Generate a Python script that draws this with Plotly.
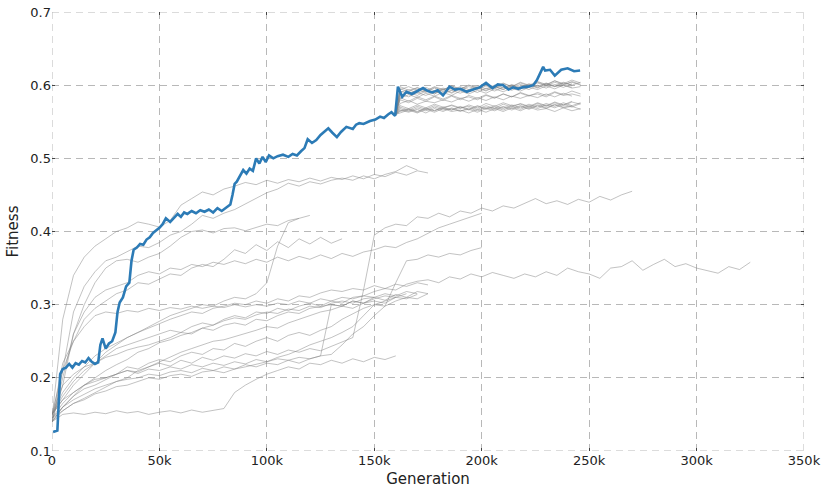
import plotly.graph_objects as go

# ---------------- data ----------------
# generation in thousands, fitness
best_run = [(0.5,.126),(2.5,.128),(3.2,.17),(3.8,.205),(5,.212),(6.5,.214),(8,.219),(9.5,.214),
    (11,.22),(12.5,.218),(14,.223),(15.5,.221),(17,.227),(18.5,.222),(20,.219),(21.5,.221),
    (22.5,.245),(23.5,.254),(25,.24),(26.5,.247),(28,.25),(29.5,.262),(30.5,.29),(31.5,.303),
    (33,.31),(34.5,.325),(36,.33),(37,.36),(38,.375),(39.5,.378),(41,.383),(42.5,.382),
    (44,.389),(45.5,.392),(47,.398),(48.5,.401),(50,.405),(51.5,.41),(53,.418),(55,.413),
    (57,.42),(58.5,.424),(60,.42),(61.5,.426),(63,.424),(65,.428),(67,.425),(69,.429),
    (71,.427),(73,.43),(75,.426),(77,.432),(79,.428),(81,.433),(83,.437),(84,.45),(85,.465),
    (86,.468),(87.5,.477),(89,.484),(90.5,.479),(92,.486),(93.5,.483),(95,.5),(96.5,.493),
    (98,.502),(99.5,.495),(101,.504),(103,.5),(105,.503),(107.5,.505),(110,.502),(112,.506),
    (114,.504),(116,.51),(117.5,.514),(119,.526),(121,.521),(123,.525),(125,.532),(127,.537),
    (128.6,.541),(130.5,.535),(132.6,.529),(134.5,.536),(137,.543),(140,.54),(141.5,.546),
    (143,.548),(145,.547),(148,.551),(150.5,.553),(152.7,.557),(154.5,.555),(156.4,.56),
    (158,.563),(159.7,.558),(161,.598),(163,.584),(165,.591),(167.5,.588),(170,.592),
    (172.7,.596),(175,.592),(177,.59),(179.5,.593),(182,.586),(185,.598),(187.5,.594),
    (190,.595),(193,.591),(196,.594),(199,.597),(202,.603),(205,.596),(207.5,.601),(210,.6),
    (212.5,.594),(214.6,.597),(217,.595),(219,.597),(221.5,.598),(224,.6),(225.7,.607),
    (228.6,.625),(229.5,.62),(231.8,.621),(234,.613),(237,.621),(240,.623),(243,.619),(245.8,.62)]

# other runs: sampled every 5k generations from 0
run_a = [.145,.28,.34,.365,.38,.39,.40,.405,.413,.41,.406,.415,.436,.445,.454,.45,.458,.462,.467,.464,
         .47,.466,.471,.468,.473,.469,.474,.471,.476,.472,.478,.475,.481,.477,.483,.48]
run_b = [.14,.21,.29,.325,.345,.36,.365,.372,.38,.378,.385,.395,.40,.41,.422,.418,.425,.43,.438,.445,
         .453,.458,.466,.462,.468,.465,.47,.473,.47,.476,.472,.478,.482,.49,.484]
run_c = [.14,.19,.26,.30,.33,.35,.36,.362,.358,.365,.37,.38,.392,.40,.402,.398,.404,.405,.401,.406,
         .41,.408,.415,.418,.422]
run_d = [.15,.17,.19,.205,.22,.235,.245,.255,.262,.27,.278,.285,.29,.295,.30,.298,.305,.31,.308,.315,
         .33,.38,.412,.418]
run_e = [.15,.21,.25,.28,.295,.305,.315,.32,.33,.328,.335,.342,.34,.35,.355,.352,.362,.375,.37,.382,
         .374,.386,.378,.39,.383,.392,.384,.39]
run_f = [.14,.2,.26,.29,.31,.32,.325,.33,.34,.345,.342,.35,.348,.355,.352,.358,.355,.36,.356,.362,
         .358,.365,.36,.366,.362,.368,.363,.37,.366,.372,.375,.38,.378,.385,.39,.398,.405,.41,.415,.42,.425]
run_g = [.14,.16,.175,.185,.19,.198,.205,.21,.208,.215,.22,.216,.224,.22,.228,.224,.23,.227,.233,.23,
         .236,.232,.238,.235,.24,.237,.243,.25,.255,.32,.395,.405,.41,.408,.42,.418,.425,.42,.428,.425,
         .432,.428,.435,.432,.438,.445,.438,.442,.437,.444,.44,.448,.443,.45,.455]
run_h = [.145,.165,.18,.19,.198,.2,.205,.21,.206,.212,.21,.215,.212,.218,.215,.22,.217,.222,.219,.225,
         .222,.226,.224,.228,.226,.23,.232,.245,.26,.27,.285,.298,.33,.36,.362,.368,.365,.37,.368,.374,.378]
run_i = [.14,.15,.152,.15,.153,.151,.155,.152,.154,.15,.153,.155,.152,.156,.153,.155,.158,.18,.19,.198,
         .205,.21,.215,.212,.22,.218,.224,.22,.226,.222,.228,.225,.23]
run_j = [.145,.16,.17,.178,.185,.19,.195,.198,.2,.205,.203,.208,.21,.207,.213,.21,.215,.212,.218,.215,
         .22,.218,.224,.22,.226,.23,.30,.298,.305,.302,.31,.306,.314,.31,.318,.315]
run_k = [.15,.175,.195,.21,.22,.23,.24,.245,.25,.255,.26,.265,.262,.27,.275,.272,.28,.285,.282,.29,
         .288,.295,.292,.298,.302,.298,.305,.302,.31,.312,.318,.322,.32,.328,.332,.334,.33,.338,.335,.342,
         .338,.344,.34,.336,.342,.338,.345,.34,.35,.345,.342,.336,.35,.352,.36,.347,.355,.362,.352,.356,
         .35,.347,.343,.352,.348,.358]
run_l = [.15,.18,.2,.215,.23,.24,.248,.255,.262,.268,.275,.28,.285,.29,.288,.295,.298,.302,.30,.305,
         .302,.308,.305,.312,.31,.316,.32,.318,.322,.32,.326,.322,.328,.325,.33,.327]
run_m = [.145,.22,.25,.27,.285,.29,.288,.292,.29,.295,.292,.296,.294,.298,.295,.298,.296,.30,.297,.30,
         .298,.302,.30,.305,.302,.308,.305,.31,.308,.312,.31,.315,.312,.318,.315]
run_n = [.14,.16,.175,.19,.2,.21,.218,.225,.235,.24,.248,.252,.258,.262,.268,.265,.272,.275,.272,.28,
         .278,.285,.29,.288,.295,.298,.30,.298,.305,.302,.308,.312,.31,.315]
run_o = [.145,.155,.165,.172,.18,.188,.195,.2,.21,.215,.222,.228,.235,.24,.245,.25,.252,.256,.26,.265,
         .27,.268,.275,.28,.285,.29,.293,.298,.295,.302,.305,.302,.31]
run_p = [.15,.17,.18,.19,.195,.2,.205,.215,.212,.22,.225,.222,.23,.235,.232,.24,.238,.247,.243,.25,
         .255,.25,.258,.262,.258,.265,.27,.28,.288,.295,.30,.298,.305,.31,.308,.315]
run_q = [.14,.155,.165,.17,.178,.182,.188,.19,.195,.2,.198,.203,.205,.202,.208,.21,.207,.212,.215,.218,
         .222,.228,.232,.238,.245,.25,.255,.262,.27,.285,.30,.305,.31,.308,.314]
run_r = [.15,.19,.205,.215,.22,.228,.232,.238,.242,.245,.25,.255,.262,.26,.268,.272,.278,.282,.28,.286,
         .29,.288,.294,.292,.298,.296,.302,.305,.302,.308,.31]
early_runs = [run_a, run_b, run_c, run_d, run_e, run_f, run_g, run_h, run_i,
              run_j, run_k, run_l, run_m, run_n, run_o, run_p, run_q, run_r]
EARLY_STEP_K = 5

# runs restarted from the best individual at 160k, sampled every 4k from 162k
branch_start = (160, .56)
up_1 = [.592,.588,.594,.59,.596,.591,.597,.593,.598,.594,.599,.595,.6,.596,.601,.597,.603,.599,.604,.6,.605,.601]
up_2 = [.585,.59,.586,.592,.588,.594,.589,.595,.591,.596,.592,.598,.594,.599,.595,.6,.597,.602,.598,.603,.6,.604]
up_3 = [.595,.591,.597,.592,.598,.594,.599,.595,.6,.596,.602,.597,.603,.598,.604,.6,.605,.601,.606,.602,.607,.603]
up_4 = [.588,.584,.59,.586,.591,.588,.593,.589,.594,.59,.596,.592,.597,.593,.598,.594,.6,.596,.601,.597,.602]
up_5 = [.598,.593,.596,.592,.597,.593,.599,.594,.6,.596,.601,.597,.602,.598,.603,.599,.604,.6,.606,.601,.604,.6]
up_6 = [.59,.594,.589,.593,.588,.595,.59,.596,.591,.597,.593,.598,.594,.6,.595,.601,.596,.602,.598,.6,.597]
up_7 = [.582,.587,.583,.589,.585,.59,.586,.592,.588,.593,.589,.595,.591,.596,.592,.597,.594,.599,.595,.6,.596,.598]
up_8 = [.594,.598,.593,.597,.592,.596,.593,.598,.594,.599,.595,.6,.596,.601,.597,.602,.598,.603,.599,.604,.6]
mid_1 = [.58,.576,.582,.578,.584,.579,.585,.58,.586,.582,.587,.583,.588,.584,.589,.585,.59,.586,.591,.587,.592,.588]
mid_2 = [.575,.579,.574,.578,.576,.58,.577,.582,.578,.583,.579,.584,.58,.585,.582,.586,.583,.588,.584,.589,.585]
mid_3 = [.583,.578,.584,.58,.585,.581,.586,.582,.584,.58,.586,.582,.588,.584,.59,.586,.588,.584,.59,.586,.588,.585]
low_1 = [.565,.568,.564,.569,.565,.57,.566,.571,.567,.572,.568,.57,.566,.571,.567,.572,.568,.573,.569,.574,.57,.575]
low_2 = [.568,.564,.569,.565,.57,.566,.568,.564,.569,.565,.57,.567,.571,.568,.572,.568,.573,.569,.574,.57,.572,.576]
low_3 = [.562,.566,.562,.567,.563,.568,.564,.566,.562,.567,.563,.568,.564,.569,.565,.57,.566,.568,.564,.569,.565,.568]
low_4 = [.57,.566,.571,.567,.572,.568,.573,.569,.571,.567,.572,.568,.574,.57,.575,.571,.576,.572,.577,.573,.578]
low_5 = [.566,.563,.567,.562,.568,.564,.569,.565,.567,.563,.568,.565,.57,.566,.571,.567,.572,.568,.573,.569,.571,.567]
low_6 = [.572,.568,.573,.569,.574,.57,.572,.568,.573,.569,.575,.571,.576,.572,.574,.57,.575,.571,.576,.572,.577,.574]
low_7 = [.564,.567,.563,.568,.565,.569,.566,.57,.566,.571,.567,.572,.568,.573,.569,.574,.57,.575,.571,.576,.572]
branch_runs = [low_1, low_2, low_3, low_4, low_5, low_6, low_7, mid_1, mid_2, mid_3,
               up_1, up_2, up_3, up_4, up_5, up_6, up_7, up_8]
BRANCH_FIRST_K = 162
BRANCH_STEP_K = 4

x_range = [0, 350000]
y_range = [0.1, 0.7]
x_tick_vals = [0, 50000, 100000, 150000, 200000, 250000, 300000, 350000]
x_tick_text = ["0", "50k", "100k", "150k", "200k", "250k", "300k", "350k"]
y_tick_vals = [0.1, 0.2, 0.3, 0.4, 0.5, 0.6, 0.7]

# ---------------- figure ----------------
GRAY = "rgba(128,128,128,0.48)"
GRID = "#b8b8b8"
DASH = "7px,5px"
fig = go.Figure()

for run in early_runs:
    gens = [i * EARLY_STEP_K * 1000 for i in range(len(run))]
    fig.add_trace(go.Scatter(x=gens, y=run, mode="lines",
                             line=dict(color=GRAY, width=1), hoverinfo="skip", showlegend=False))

for run in branch_runs:
    gens = [branch_start[0] * 1000] + [(BRANCH_FIRST_K + i * BRANCH_STEP_K) * 1000 for i in range(len(run))]
    fig.add_trace(go.Scatter(x=gens, y=[branch_start[1]] + run, mode="lines",
                             line=dict(color=GRAY, width=1), hoverinfo="skip", showlegend=False))

fig.add_trace(go.Scatter(x=[g * 1000 for g, _ in best_run], y=[f for _, f in best_run],
                         mode="lines", line=dict(color="#2C7BB6", width=2.6), showlegend=False))

# dashed frame (grid lines at the range limits)
for xv in x_range:
    fig.add_shape(type="line", xref="x", yref="y", x0=xv, x1=xv, y0=y_range[0], y1=y_range[1],
                  line=dict(color=GRID, width=1, dash=DASH), layer="below")
for yv in y_range:
    fig.add_shape(type="line", xref="x", yref="y", x0=x_range[0], x1=x_range[1], y0=yv, y1=yv,
                  line=dict(color=GRID, width=1, dash=DASH), layer="below")

axis_common = dict(showgrid=True, gridcolor=GRID, gridwidth=1, griddash=DASH,
                   zeroline=False, showline=False, ticks="inside", ticklen=3,
                   tickcolor="#444", mirror="ticks", automargin=False,
                   ticklabeloverflow="allow",
                   tickfont=dict(family="DejaVu Sans", size=13, color="#222"))

fig.update_layout(
    width=825, height=491,
    margin=dict(l=52, r=21, t=12, b=40),
    paper_bgcolor="white", plot_bgcolor="white",
    font=dict(family="DejaVu Sans", color="#222"),
    xaxis=dict(range=x_range, tickvals=x_tick_vals, ticktext=x_tick_text,
               title=dict(text="Generation", font=dict(size=15), standoff=6), **axis_common),
    yaxis=dict(range=y_range, tickvals=y_tick_vals, tickformat=".1f",
               title=dict(text="Fitness", font=dict(size=15), standoff=8), **axis_common),
)

# remove the default page margin so the figure fills the window exactly
fig.write_html("out.html", config={"displayModeBar": False},
               post_script="document.body.style.margin='0';")
